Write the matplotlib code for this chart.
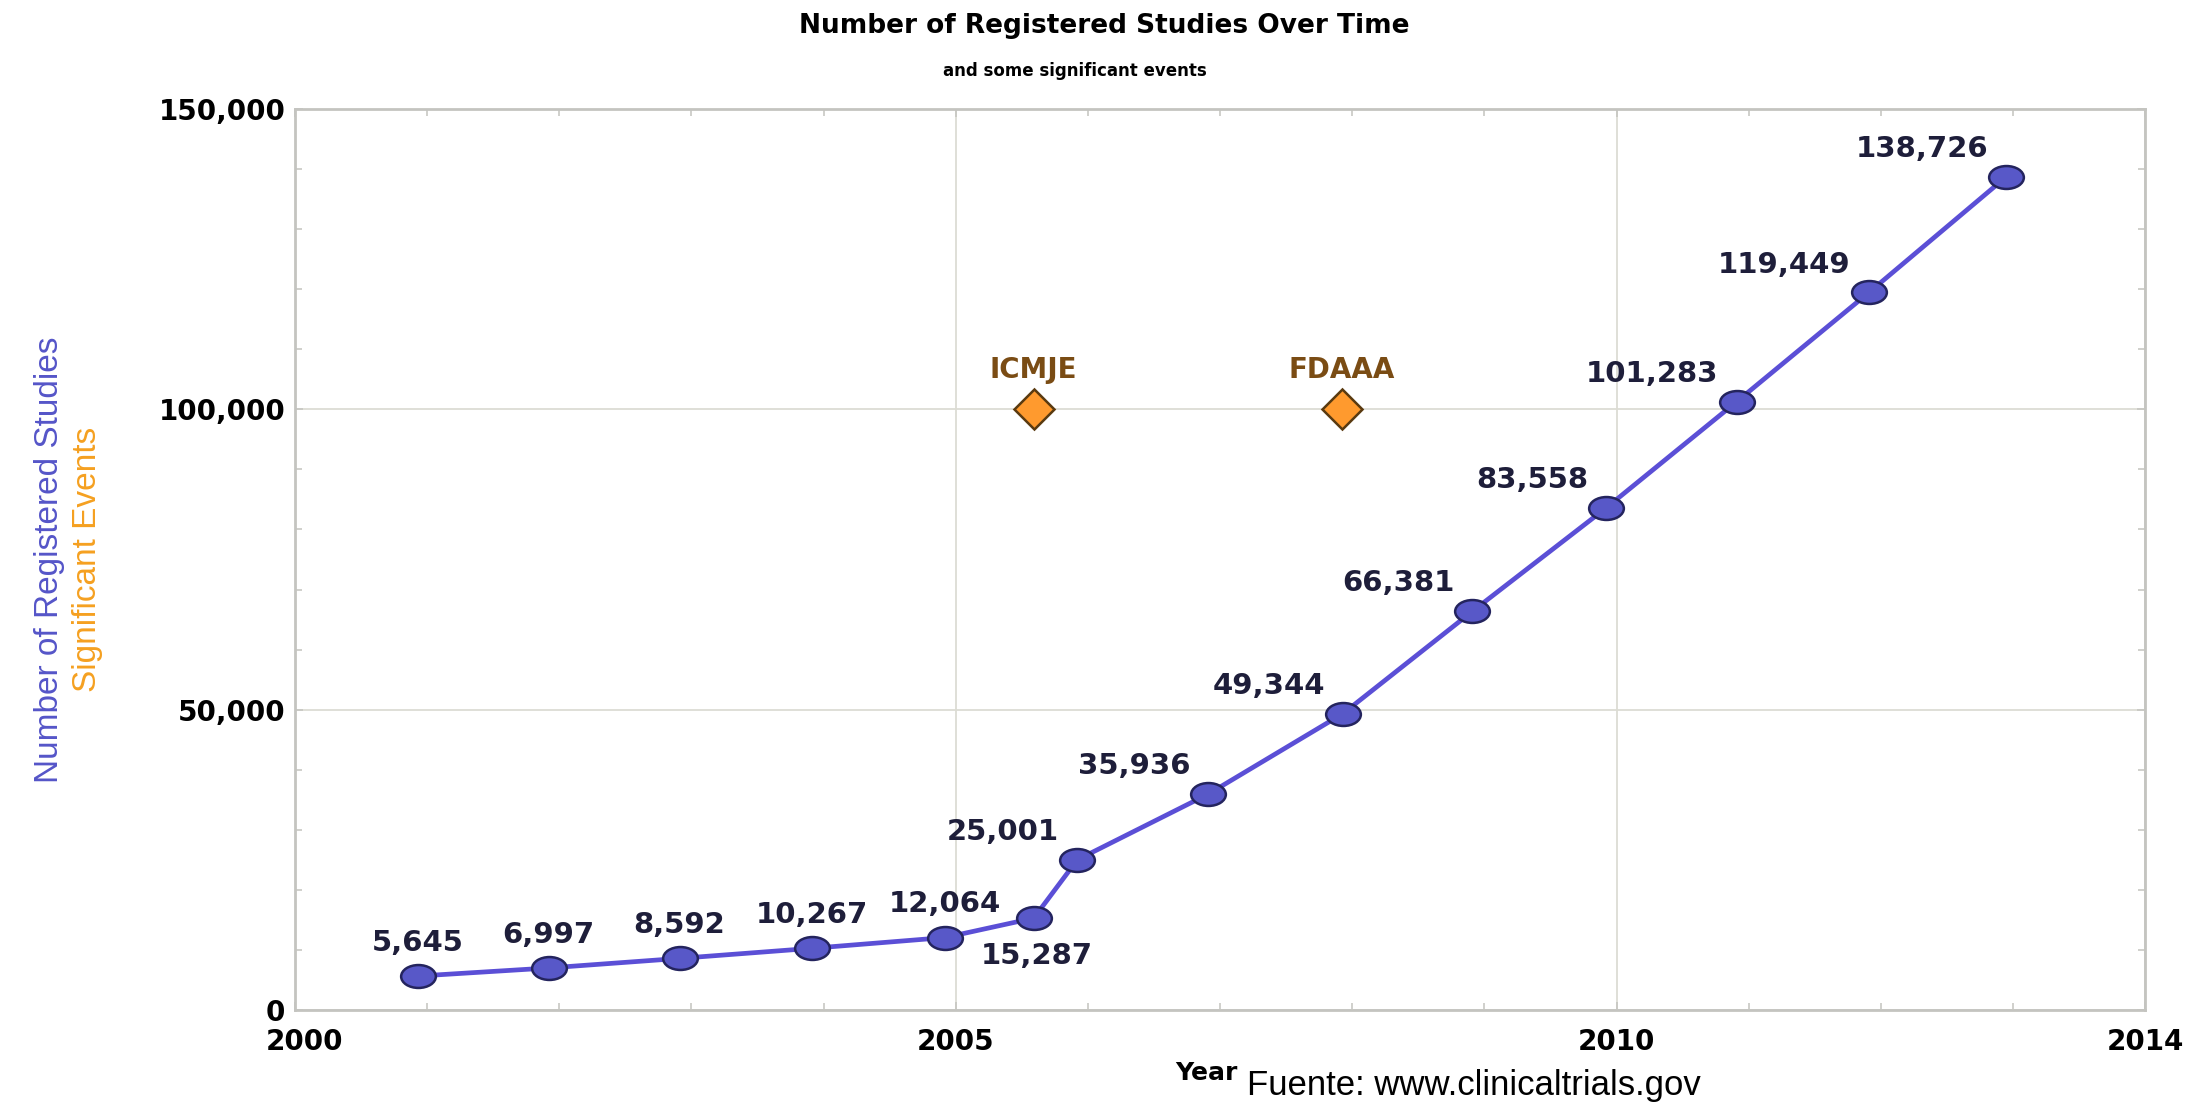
import matplotlib
matplotlib.use("Agg")
import matplotlib.pyplot as plt
from matplotlib.path import Path
from matplotlib.transforms import Affine2D, ScaledTranslation
from matplotlib.ticker import FuncFormatter, MultipleLocator

# registered studies (date as decimal year)
years = [2000.93, 2001.92, 2002.91, 2003.91, 2004.92, 2005.59, 2005.92,
         2006.91, 2007.93, 2008.91, 2009.92, 2010.91, 2011.91, 2012.95]
studies = [5645, 6997, 8592, 10267, 12064, 15287, 25001,
           35936, 49344, 66381, 83558, 101283, 119449, 138726]

# significant events
events = ["ICMJE", "FDAAA"]
event_years = [2005.59, 2007.92]
event_level = [100000, 100000]

xticks = [2000, 2005, 2010, 2014]
yticks = [0, 50000, 100000, 150000]

line_blue = "#5b4fd6"
dot_face = "#5858c8"
dot_edge = "#24245e"
label_col = "#1e1e3a"

fig = plt.figure(figsize=(21.9, 11.02), dpi=100)
ax = fig.add_axes([0.1347, 0.0835, 0.9795 - 0.1347, 0.9011 - 0.0835])

# squashed circle for the data points
oval = Path.unit_circle().transformed(Affine2D().scale(1.0, 0.66))

ax.plot(years, studies, color=line_blue, lw=3.4, marker=oval, ms=25,
        mfc=dot_face, mec=dot_edge, mew=1.8, zorder=3)
ax.plot(event_years, event_level, ls="none", marker="D", ms=20,
        mfc="#ff9a2e", mec="#5a3a10", mew=1.8, zorder=3)

for i, (x, y) in enumerate(zip(years, studies)):
    txt = f"{y:,}"
    if i < 5:
        ax.annotate(txt, (x, y), xytext=(0, 24), textcoords="offset points",
                    ha="center", va="center", fontsize=21, fontweight="bold",
                    color=label_col)
    elif i == 5:
        ax.annotate(txt, (x, y), xytext=(2, -27), textcoords="offset points",
                    ha="center", va="center", fontsize=21, fontweight="bold",
                    color=label_col)
    else:
        ax.annotate(txt, (x, y), xytext=(-13, 20), textcoords="offset points",
                    ha="right", va="center", fontsize=21, fontweight="bold",
                    color=label_col)

for name, x, y in zip(events, event_years, event_level):
    ax.annotate(name, (x, y), xytext=(0, 28), textcoords="offset points",
                ha="center", va="center", fontsize=20, fontweight="bold",
                color="#7a4c14")

ax.set_xlim(2000, 2014)
ax.set_ylim(0, 150000)
ax.set_xticks(xticks)
ax.set_yticks(yticks)
ax.xaxis.set_minor_locator(MultipleLocator(1))
ax.yaxis.set_minor_locator(MultipleLocator(10000))
ax.yaxis.set_major_formatter(FuncFormatter(lambda v, p: f"{int(v):,}"))

ax.grid(True, which="major", color="#dcdcd4", lw=1.3)
ax.set_axisbelow(True)
for s in ax.spines.values():
    s.set_color("#c4c4c0")
    s.set_linewidth(2)

ax.tick_params(which="both", direction="in", top=True, right=True,
               color="#c8c8c4")
ax.tick_params(which="major", length=6, width=1.3)
ax.tick_params(which="minor", length=5, width=1.2)
ax.tick_params(axis="y", which="major", pad=7, labelsize=20)
ax.tick_params(axis="x", which="major", pad=13, labelsize=20)
for lab in ax.get_xticklabels() + ax.get_yticklabels():
    lab.set_fontweight("bold")
# first year label sits a little to the right of the corner
first = ax.get_xticklabels()[0]
first.set_transform(first.get_transform() +
                    ScaledTranslation(0.1, 0, fig.dpi_scale_trans))

# titles
fig.text(0.504, 0.976, "Number of Registered Studies Over Time",
         ha="center", va="center", fontsize=19, fontweight="bold")
fig.text(0.491, 0.9355, "and some significant events",
         ha="center", va="center", fontsize=12, fontweight="bold")

# two-coloured y axis title
narrow = ["Liberation Sans Narrow", "Liberation Sans", "DejaVu Sans"]
fig.text(0.0224, 0.492, "Number of Registered Studies", rotation=90,
         ha="center", va="center", fontsize=24, color="#5555c8", family=narrow)
fig.text(0.040, 0.492, "Significant Events", rotation=90,
         ha="center", va="center", fontsize=24, color="#f5a020", family=narrow)

fig.text(0.5507, 0.026, "Year", ha="center", va="center",
         fontsize=18, fontweight="bold")
fig.text(0.5694, 0.0064, "Fuente: www.clinicaltrials.gov", ha="left",
         va="baseline", fontsize=25, family=["Liberation Sans", "DejaVu Sans"])

fig.savefig("out.png", dpi=100)
